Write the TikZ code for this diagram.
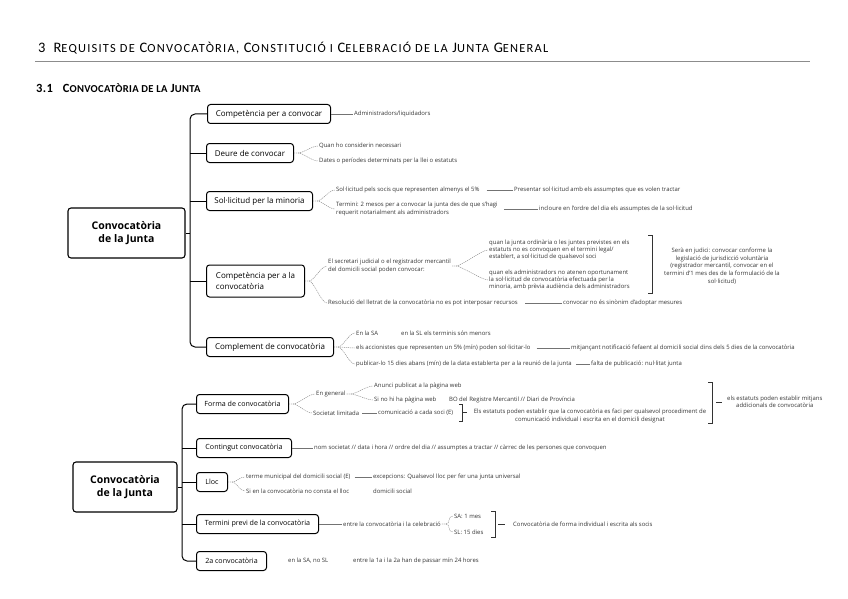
\documentclass[tikz,border=0pt]{standalone}
\usepackage{fontspec}
\setmainfont{Open Sans}
\newfontfamily\hfont{Carlito}[LetterSpace=10]
\newfontfamily\hfontb{Carlito}[LetterSpace=3]
\newcommand\smca[1]{{\fontsize{12.4}{10}\selectfont #1}}
\newcommand\smcb[1]{{\fontsize{10.6}{8}\selectfont #1}}
\begin{document}
\begin{tikzpicture}[x=1pt,y=-1pt,
  box/.style={draw=black, line width=1pt, rounded corners=3pt, fill=white, inner sep=0pt, anchor=west, minimum height=19pt, font=\fontsize{8}{10}\selectfont},
  lbox/.style={box, font=\fontsize{7.1}{9}\selectfont},
  root/.style={draw=black, line width=1.1pt, rounded corners=3pt, fill=white, inner sep=0pt, minimum height=50pt, align=center, font=\bfseries\fontsize{10.5}{13.5}\selectfont},
  leaf/.style={inner sep=1pt, anchor=west, align=left, text=black!80, font=\fontsize{5.95}{7.4}\selectfont},
  trunk/.style={line width=1pt, rounded corners=5pt},
  leafline/.style={draw=black!55, line width=0.45pt},
  brace/.style={draw=black!45, line width=0.45pt, dash pattern=on 1.2pt off 0.8pt, to path={-- ++(4,0) .. controls +(5,0) and +(-6,0) .. (\tikztotarget)}},
  bracket/.style={draw=black!80, line width=0.6pt}
]
\useasboundingbox (0,0) rectangle (848,599);
% headings
\node[anchor=base west, inner sep=0pt, font=\hfont\fontsize{14.5}{13}\selectfont] (title) at (38,53)
  {3\hspace{8pt}R\smca{EQUISITS DE} C\smca{ONVOCATÒRIA,} C\smca{ONSTITUCIÓ I} C\smca{ELEBRACIÓ DE LA} J\smca{UNTA} G\smca{ENERAL}};
\draw[black!45, line width=0.6pt] (35,61) -- (810,61);
\node[anchor=base west, inner sep=0pt, font=\hfontb\bfseries\fontsize{12.5}{10}\selectfont] (sub) at (36,93)
  {3.1\hspace{10pt}C\smcb{ONVOCATÒRIA DE LA} J\smcb{UNTA}};

% ===== upper tree =====
\node[root, minimum width=117pt] (R1) at (126.5,233) {Convocatòria\\de la Junta};
\coordinate (tk1) at (190,233);
\node[box, minimum width=123pt] (B1) at (207,114) {Competència per a convocar};
\node[box, minimum width=87pt] (B2) at (206,153) {Deure de convocar};
\node[box, minimum width=106pt] (B3) at (206,201) {Sol·licitud per la minoria};
\node[box, minimum width=98pt, minimum height=32pt, align=left, font=\fontsize{8}{11}\selectfont] (B4) at (206,281) {Competència per a la\\convocatòria};
\node[box, minimum width=127pt] (B5) at (206,347) {Complement de convocatòria};
\draw[trunk] (B1.west) -| (tk1) |- (B5.west);
\draw[trunk] (R1.east) -- (tk1);
\foreach \b in {B2,B3,B4} \draw[trunk] (\b.west) -- (\b.west -| tk1);

\node[leaf] (A1) at (353,114) {Administradors/liquidadors};
\draw[leafline] (B1) -- (A1);

\node[leaf] (D1) at (318,146) {Quan ho considerin necessari};
\node[leaf] (D2) at (318,161) {Dates o períodes determinats per la llei o estatuts};
\draw[brace] (B2.east) to (D1.west);
\draw[brace] (B2.east) to (D2.west);

\node[leaf] (S1) at (335,190) {Sol·licitud pels socis que representen almenys el 5\%};
\node[leaf] (S2) at (335,209) {Termini: 2 mesos per a convocar la junta des de que s'hagi\\requerit notarialment als administradors};
\draw[brace] (B3.east) to (S1.west);
\draw[brace] (B3.east) to (S2.west);
\node[leaf] (S3) at (513,190) {Presentar sol·licitud amb els assumptes que es volen tractar};
\node[leaf] (S4) at (538,209) {incloure en l'ordre del dia els assumptes de la sol·licitud};
\draw[leafline, shorten <=6pt] (S1) -- (S3);
\draw[leafline, shorten <=5pt] (S2.east) -- (S4.west);

\node[leaf] (C1) at (327,266) {El secretari judicial o el registrador mercantil\\del domicili social poden convocar:};
\node[leaf] (C1a) at (488,250) {quan la junta ordinària o les juntes previstes en els\\estatuts no es convoquen en el termini legal/\\establert, a sol·licitud de qualsevol soci};
\node[leaf] (C1b) at (488,280) {quan els administradors no atenen oportunament\\la sol·licitud de convocatòria efectuada per la\\minoria, amb prèvia audiència dels administradors};
\draw[brace] (B4.east) to (C1.west);
\draw[brace] (C1.east) to (C1a.west);
\draw[brace] (C1.east) to (C1b.west);
\draw[bracket] (648,235) -- (652,235) -- (652,293) -- (648,293);
\node[leaf, anchor=center, align=center, font=\fontsize{5.95}{7.8}\selectfont] (C1c) at (722,266) {Serà en judici: convocar conforme la\\legislació de jurisdicció voluntària\\(registrador mercantil, convocar en el\\termini d'1 mes des de la formulació de la\\sol·licitud)};
\node[leaf] (C2) at (327,303) {Resolució del lletrat de la convocatòria no es pot interposar recursos};
\node[leaf] (C3) at (562,303) {convocar no és sinònim d'adoptar mesures};
\draw[brace] (B4.east) to (C2.west);
\draw[leafline, shorten <=6pt] (C2) -- (C3);

\node[leaf] (P1) at (355,333) {En la SA};
\node[leaf] (P1b) at (400,333) {en la SL els terminis són menors};
\node[leaf] (P2) at (355,348) {els accionistes que representen un 5\% (mín) poden sol·licitar-lo};
\node[leaf] (P2b) at (570,348) {mitjançant notificació fefaent al domicili social dins dels 5 dies de la convocatòria};
\node[leaf] (P3) at (355,364) {publicar-lo 15 dies abans (mín) de la data establerta per a la reunió de la junta};
\node[leaf] (P3b) at (590,364) {falta de publicació: nul·litat junta};
\draw[brace] (B5.east) to (P1.west);
\draw[brace] (B5.east) to (P2.west);
\draw[brace] (B5.east) to (P3.west);
\draw[leafline, shorten <=5pt] (P2) -- (P2b);
\draw[leafline, shorten <=3pt] (P3) -- (P3b);

% ===== lower tree =====
\node[root, minimum width=104pt] (R2) at (125,487) {Convocatòria\\de la Junta};
\coordinate (tk2) at (182,487);
\node[lbox, minimum width=92pt] (F) at (196,404) {Forma de convocatòria};
\node[lbox, minimum width=95pt] (K) at (196,448) {Contingut convocatòria};
\node[lbox, minimum width=31pt] (L) at (196,482) {Lloc};
\node[lbox, minimum width=122pt] (T) at (196,524) {Termini previ de la convocatòria};
\node[lbox, minimum width=70pt] (Z) at (196,561) {2a convocatòria};
\draw[trunk] (F.west) -| (tk2) |- (Z.west);
\draw[trunk] (R2.east) -- (tk2);
\foreach \b in {K,L,T} \draw[trunk] (\b.west) -- (\b.west -| tk2);

\node[leaf] (F1) at (315,394) {En general};
\node[leaf] (F2) at (312,413) {Societat limitada};
\draw[brace] (F.east) to (F1.west);
\draw[brace] (F.east) to (F2.west);
\node[leaf] (F1a) at (373,386) {Anunci publicat a la pàgina web};
\node[leaf] (F1b) at (373,400) {Si no hi ha pàgina web};
\node[leaf] (F1c) at (448,400) {BO del Registre Mercantil // Diari de Província};
\draw[brace] (F1.east) to (F1a.west);
\draw[brace] (F1.east) to (F1b.west);
\node[leaf] (F2b) at (377,413) {comunicació a cada soci (E)};
\draw[leafline, shorten <=2pt] (F2) -- (F2b);
\draw[bracket] (459,404) -- (462,404) -- (462,421) -- (459,421);
\draw[bracket] (462,412) -- (467,412);
\node[leaf, anchor=center, align=center] (F2c) at (590,416) {Els estatuts poden establir que la convocatòria es faci per qualsevol procediment de\\comunicació individual i escrita en el domicili designat};
\draw[bracket] (708,382) -- (712,382) -- (712,423) -- (708,423);
\draw[bracket] (716,402) -- (722,402);
\node[leaf, align=center] (F3) at (726,402) {els estatuts poden establir mitjans\\addicionals de convocatòria};

\node[leaf] (K1) at (313,448) {nom societat // data i hora // ordre del dia // assumptes a tractar // càrrec de les persones que convoquen};
\draw[leafline] (K) -- (K1);

\node[leaf] (L1) at (245,477) {terme municipal del domicili social (E)};
\node[leaf] (L2) at (245,491) {Si en la convocatòria no consta el lloc};
\draw[brace] (L.east) to (L1.west);
\draw[brace] (L.east) to (L2.west);
\node[leaf] (L1b) at (372,477) {excepcions: Qualsevol lloc per fer una junta universal};
\node[leaf] (L2b) at (372,491) {domicili social};
\draw[leafline, shorten <=3pt] (L1) -- (L1b);

\node[leaf] (T1) at (342,524) {entre la convocatòria i la celebració};
\draw[leafline] (T) -- (T1);
\node[leaf] (T2a) at (453,516) {SA: 1 mes};
\node[leaf] (T2b) at (453,532) {SL: 15 dies};
\draw[brace] (T1.east) to (T2a.west);
\draw[brace] (T1.east) to (T2b.west);
\draw[bracket] (491,511) -- (495,511) -- (495,537) -- (491,537);
\draw[bracket] (498,524) -- (505,524);
\node[leaf] (T3) at (512,524) {Convocatòria de forma individual i escrita als socis};

\node[leaf] (Z1) at (287,561) {en la SA, no SL};
\node[leaf] (Z2) at (352,561) {entre la 1a i la 2a han de passar mín 24 hores};
\end{tikzpicture}
\end{document}
